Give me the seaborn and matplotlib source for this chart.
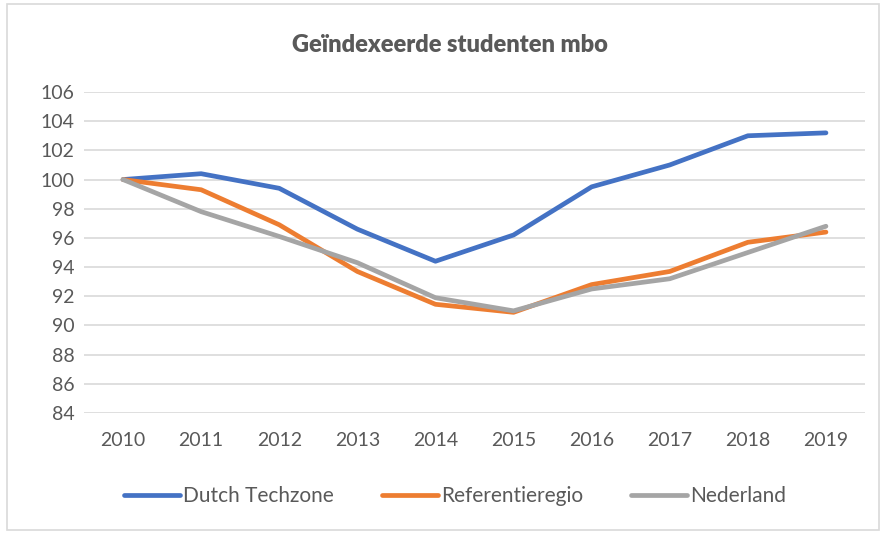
import matplotlib
matplotlib.use("Agg")
import matplotlib.pyplot as plt
import seaborn as sns
import pandas as pd
from matplotlib.patches import Rectangle
from matplotlib.lines import Line2D

years = [2010, 2011, 2012, 2013, 2014, 2015, 2016, 2017, 2018, 2019]
dutch_techzone = [100.0, 100.4, 99.4, 96.6, 94.4, 96.2, 99.5, 101.0, 103.0, 103.2]
referentieregio = [100.0, 99.3, 96.9, 93.7, 91.45, 90.9, 92.8, 93.7, 95.7, 96.4]
nederland = [100.0, 97.8, 96.1, 94.3, 91.9, 91.0, 92.5, 93.2, 95.0, 96.8]
series_names = ["Dutch Techzone", "Referentieregio", "Nederland"]
y_ticks = [84, 86, 88, 90, 92, 94, 96, 98, 100, 102, 104, 106]
title = "Geïndexeerde studenten mbo"

colors = ["#4472C4", "#ED7D31", "#A5A5A5"]
text_color = "#595959"

sns.set_theme(style="white")
plt.rcParams['font.family'] = ['Lato', 'DejaVu Sans']

rows = []
for name, vals in zip(series_names, [dutch_techzone, referentieregio, nederland]):
    for i, (yr, v) in enumerate(zip(years, vals)):
        rows.append({"pos": i, "jaar": str(yr), "waarde": v, "reeks": name})
df = pd.DataFrame(rows)

fig = plt.figure(figsize=(8.86, 5.33), dpi=100)
ax = fig.add_axes([84/886, 1-413/533, (865-84)/886, (413-92)/533])

sns.lineplot(data=df, x="pos", y="waarde", hue="reeks", hue_order=series_names,
             palette=colors, linewidth=3.4, ax=ax, legend=False,
             solid_capstyle="round", solid_joinstyle="round")

ax.set_xlim(-0.5, len(years) - 0.5)
ax.set_ylim(84, 106)
ax.set_yticks(y_ticks)
ax.set_yticklabels([str(t) for t in y_ticks])
ax.set_xticks(range(len(years)))
ax.set_xticklabels([str(y) for y in years])
ax.set_xlabel("")
ax.set_ylabel("")
ax.grid(axis="y", color="#D9D9D9", linewidth=1.2)
ax.grid(axis="x", visible=False)
ax.set_axisbelow(True)
for s in ax.spines.values():
    s.set_visible(False)
ax.tick_params(axis="both", length=0, labelsize=14, labelcolor=text_color)
ax.tick_params(axis="y", pad=7)
ax.tick_params(axis="x", pad=14)

fig.text(450/886, 1-45/533, title, ha="center", va="center", fontsize=17,
         fontweight="heavy", color=text_color)

handles = [Line2D([0], [0], color=c, linewidth=3.4, solid_capstyle="round") for c in colors]
leg = fig.legend(handles, series_names, loc="center", bbox_to_anchor=(455/886, 1-496/533),
                 ncol=3, frameon=False, fontsize=15, handlelength=2.7, handletextpad=0.15,
                 columnspacing=2.3, labelcolor=text_color)

fig.patches.append(Rectangle((7/886, 3/533), (879-7)/886, (529-3)/533, transform=fig.transFigure,
                             fill=False, edgecolor="#D9D9D9", linewidth=1.2))

fig.savefig("out.png", dpi=100)
